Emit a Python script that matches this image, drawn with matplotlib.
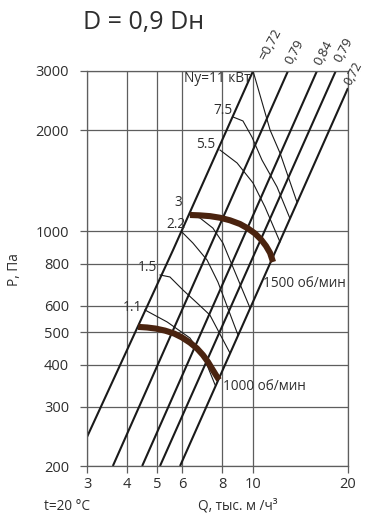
import matplotlib
matplotlib.use("Agg")
import matplotlib.pyplot as plt

plt.rcParams['font.family'] = ['Open Sans', 'DejaVu Sans']

# axis ticks
q_ticks = [3, 4, 5, 6, 8, 10, 20]
p_ticks = [200, 300, 400, 500, 600, 800, 1000, 2000, 3000]

# efficiency rays (Q, P)
eff_labels = ["=0,72", "0,79", "0,84", "0,79", "0,72"]
eff_q = [[3, 5.61, 10.03], [3.62, 12.93], [4.48, 15.96], [5.10, 18.3], [5.90, 20]]
eff_p = [[244, 880, 3000], [200, 3000], [200, 3000], [200, 3000], [200, 2669]]
eff_label_q = [11.35, 13.6, 16.8, 19.4, 20.8]
eff_label_p = [3585, 3417, 3393, 3462, 2950]

# motor power curves, kW
pow_labels = ["1.1", "1.5", "2.2", "3", "5.5", "7.5"]
pow_q = [
    [4.57, 5.37, 6.34, 7.07, 7.61],
    [5.10, 5.48, 6.03, 6.67, 7.33, 8.48],
    [5.98, 6.48, 7.18, 7.77, 8.99],
    [6.30, 6.82, 7.49, 8.06, 8.48, 9.81],
    [7.89, 8.93, 10.03, 10.94, 12.2],
    [8.67, 9.32, 9.95, 10.7, 11.94, 13.1],
]
pow_p = [
    [583, 537, 481, 414, 349],
    [741, 731, 668, 612, 563, 434],
    [995, 922, 821, 706, 491],
    [1120, 1095, 1022, 922, 821, 591],
    [1745, 1597, 1392, 1181, 929],
    [2189, 2130, 1908, 1630, 1355, 1095],
]
pow_label_q = [4.48, 4.99, 6.12, 5.98, 7.61, 8.61]
pow_label_p = [591, 778, 1044, 1222, 1818, 2281]
n11_q = [10.03, 11.35, 12.2, 13.8]
n11_p = [3000, 2002, 1710, 1222]

# fan curves
q_1500 = [6.34, 6.82, 7.34, 7.89, 8.48, 9.12, 9.67, 10.17, 10.63, 11.02, 11.35, 11.6]
p_1500 = [1118, 1115, 1109, 1097, 1078, 1051, 1019, 985, 945, 904, 862, 810]
q_1000 = [4.35, 4.64, 4.95, 5.29, 5.65, 5.98, 6.34, 6.67, 6.97, 7.23, 7.44, 7.66, 7.83]
p_1000 = [519, 517, 513, 506, 496, 483, 466, 448, 428, 408, 390, 373, 361]

grid_c = '#5e5e5e'
text_c = '#2e2e2e'
fs = 9.8

fig = plt.figure(figsize=(3.66, 5.17), dpi=100)
ax = fig.add_axes([87 / 366, 51 / 517, 261 / 366, 395 / 517])
ax.set_xscale('log')
ax.set_yscale('log')
ax.set_xlim(3, 20)
ax.set_ylim(200, 3000)

ax.set_xticks(q_ticks)
ax.set_xticklabels([str(v) for v in q_ticks])
ax.set_yticks(p_ticks)
ax.set_yticklabels([str(v) for v in p_ticks])
ax.minorticks_off()
ax.tick_params(direction='out', length=5, width=0.9, color=grid_c,
               labelsize=10.5, labelcolor=text_c)
ax.tick_params(axis='y', pad=8)
ax.tick_params(axis='x', pad=3)
ax.grid(True, color=grid_c, linewidth=0.9)
for s in ax.spines.values():
    s.set_color(grid_c)
    s.set_linewidth(0.9)

for q, p in zip(eff_q, eff_p):
    ax.plot(q, p, color='#1a1a1a', lw=1.5, solid_capstyle='butt')
for i, (lab, x, y) in enumerate(zip(eff_labels, eff_label_q, eff_label_p)):
    ax.text(x, y, lab, rotation=62, ha='center', va='center',
            fontsize=9 if i == 4 else 9.5, color=text_c, clip_on=False)

for q, p in zip(pow_q, pow_p):
    ax.plot(q, p, color='#1a1a1a', lw=0.8, solid_joinstyle='round')
ax.plot(n11_q, n11_p, color='#1a1a1a', lw=0.8, solid_joinstyle='round')
for lab, x, y in zip(pow_labels, pow_label_q, pow_label_p):
    ax.text(x, y, lab, ha='right', va='center', fontsize=fs, color=text_c)
ax.text(9.85, 2850, "Ny=11 кВт", ha='right', va='center', fontsize=fs, color=text_c)

ax.plot(q_1500, p_1500, color='#4a230f', lw=4.4, solid_capstyle='butt',
        solid_joinstyle='round')
ax.plot(q_1000, p_1000, color='#4a230f', lw=4.4, solid_capstyle='butt',
        solid_joinstyle='round')
ax.text(10.78, 701, "1500 об/мин", ha='left', va='center', fontsize=fs, color=text_c)
ax.text(8.06, 346, "1000 об/мин", ha='left', va='center', fontsize=fs, color=text_c)

fig.text(144 / 366, 1 - 23 / 517, "D = 0,9 Dн", ha='center', va='center',
         fontsize=18, color=text_c)
fig.text(14 / 366, 1 - 270 / 517, "P, Па", rotation=90, ha='center', va='center',
         fontsize=fs, color=text_c)
fig.text(67 / 366, 1 - 506 / 517, "t=20 °C", ha='center', va='center',
         fontsize=fs, color=text_c)
fig.text(238 / 366, 1 - 506 / 517, "Q, тыс. м /ч³", ha='center', va='center',
         fontsize=fs, color=text_c)

fig.savefig("out.png", dpi=100)
